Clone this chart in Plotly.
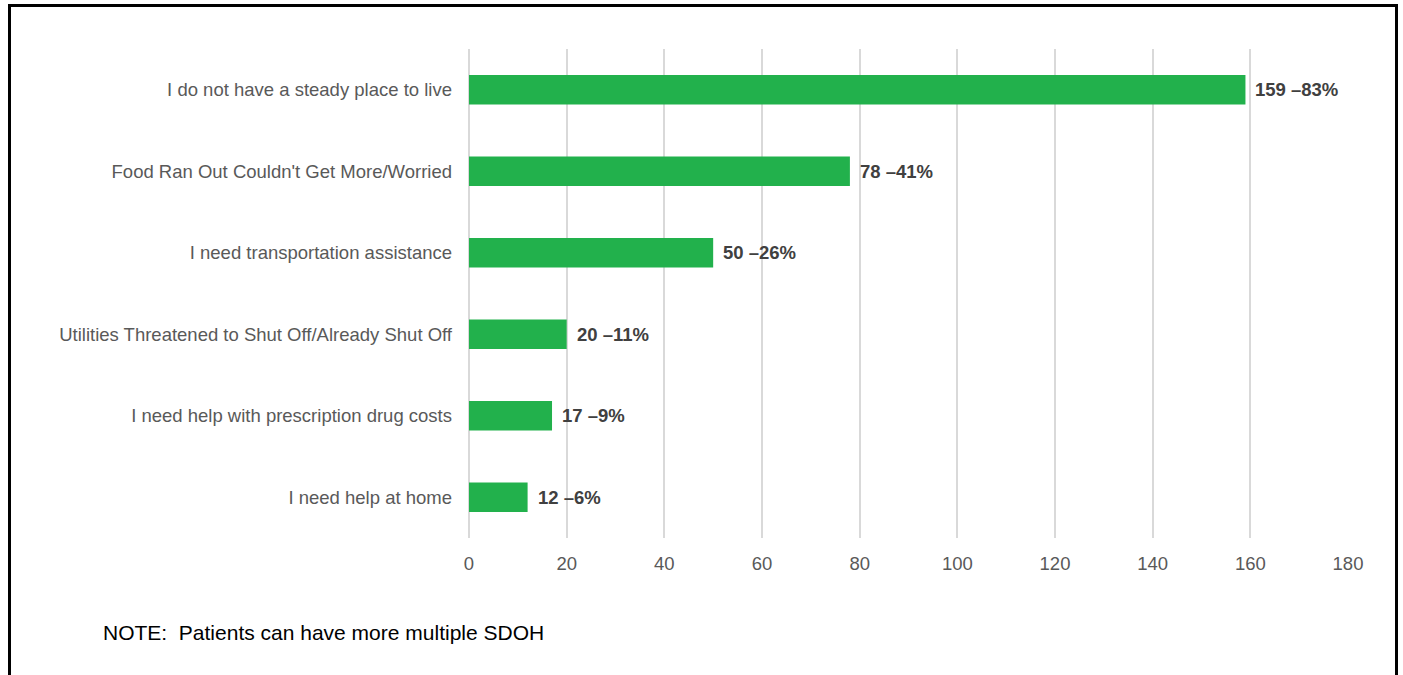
import plotly.graph_objects as go

categories = [
    "I do not have a steady place to live",
    "Food Ran Out Couldn't Get More/Worried",
    "I need transportation assistance",
    "Utilities Threatened to Shut Off/Already Shut Off",
    "I need help with prescription drug costs",
    "I need help at home",
]
counts = [159, 78, 50, 20, 17, 12]
percents = [83, 41, 26, 11, 9, 6]
x_ticks = [0, 20, 40, 60, 80, 100, 120, 140, 160, 180]
note_text = "NOTE:  Patients can have more multiple SDOH"

W, H = 1403, 675
ML, MR, MT, MB = 469, 55, 49, 137
pw = W - ML - MR
ph = H - MT - MB

fig = go.Figure()
fig.add_trace(go.Bar(
    y=categories,
    x=counts,
    orientation="h",
    marker=dict(color="#22B14C", line=dict(width=0)),
    width=0.36,
    hoverinfo="skip",
))

for c, n, p in zip(categories, counts, percents):
    fig.add_annotation(
        x=n, y=c, xref="x", yref="y",
        text=f"<b>{n} \u2013{p}%</b>",
        showarrow=False, xanchor="left", yanchor="middle", xshift=8,
        font=dict(family="Liberation Sans, Arial", size=18.5, color="#404040"),
    )

fig.add_annotation(
    x=(101 - ML) / pw, y=(MT + ph - 632) / ph, xref="paper", yref="paper",
    text=note_text, showarrow=False, xanchor="left", yanchor="middle",
    font=dict(family="Liberation Sans, Arial", size=21, color="#000000"),
)

# outer border
fig.add_shape(
    type="rect", xref="paper", yref="paper",
    x0=(9.5 - ML) / pw, x1=(1396.5 - ML) / pw,
    y0=(MT + ph - 720) / ph, y1=(MT + ph - 5.5) / ph,
    line=dict(color="#000000", width=3), fillcolor="rgba(0,0,0,0)",
    layer="above",
)

fig.update_layout(
    width=W, height=H,
    margin=dict(l=ML, r=MR, t=MT, b=MB),
    paper_bgcolor="white", plot_bgcolor="white",
    showlegend=False,
    font=dict(family="Liberation Sans, Arial", size=18, color="#595959"),
    xaxis=dict(
        range=[0, 180], tickvals=x_ticks, showgrid=True,
        gridcolor="#d9d9d9", gridwidth=1.5, zeroline=True,
        zerolinecolor="#d9d9d9", zerolinewidth=1.5,
        showline=False, ticks="", ticklabelstandoff=12,
        tickfont=dict(size=18.5, color="#595959"),
    ),
    yaxis=dict(
        categoryorder="array", categoryarray=categories[::-1],
        showgrid=False, zeroline=False, showline=False, ticks="",
        ticklabelstandoff=16,
        tickfont=dict(size=18.5, color="#595959"),
    ),
)

fig.write_html(
    "out.html",
    config={"displayModeBar": False},
    post_script="document.body.style.margin='0';",
)
